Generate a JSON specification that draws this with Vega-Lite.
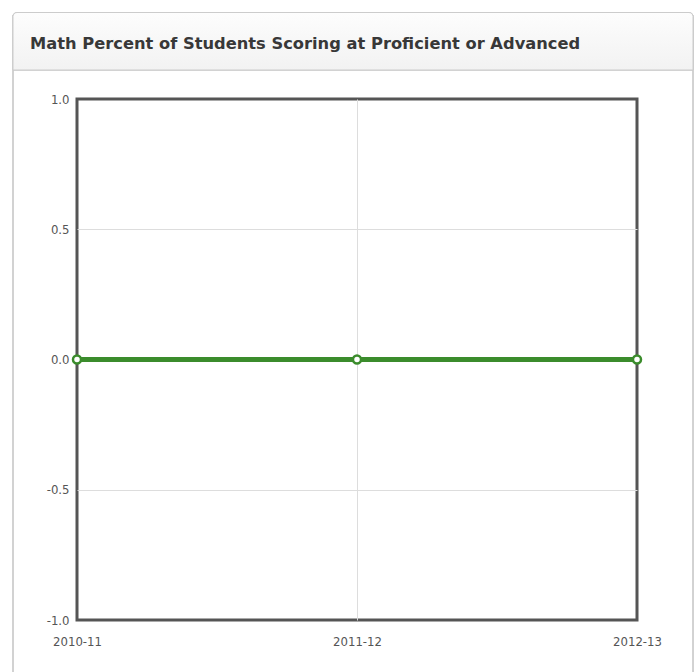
{
  "$schema": "https://vega.github.io/schema/vega-lite/v6.json",
  "width": 560,
  "height": 521,
  "autosize": "none",
  "padding": {"left": 77, "top": 99, "right": 59, "bottom": 52},
  "background": "white",
  "title": {
    "text": "Math Percent of Students Scoring at Proficient or Advanced",
    "anchor": "start",
    "frame": "group",
    "font": "DejaVu Sans",
    "fontSize": 16.3,
    "fontWeight": "bold",
    "color": "#383838",
    "dx": -47,
    "offset": -40,
    "zindex": 1
  },
  "data": {
    "values": [
      {"year": 2010, "value": 0},
      {"year": 2011, "value": 0},
      {"year": 2012, "value": 0}
    ]
  },
  "encoding": {
    "x": {
      "field": "year",
      "type": "quantitative",
      "scale": {"domain": [2010, 2012], "nice": false, "zero": false},
      "axis": {
        "title": null,
        "values": [2010, 2011, 2012],
        "labelExpr": "datum.value + '-' + substring(toString(datum.value + 1), 2)",
        "domain": false,
        "ticks": false,
        "tickSize": 0,
        "labelPadding": 15,
        "labelFlush": false,
        "grid": true,
        "gridColor": {"condition": {"test": "datum.value == 2011", "value": "#dddddd"}, "value": "transparent"},
        "labelFont": "DejaVu Sans Condensed, DejaVu Sans",
        "labelFontSize": 13,
        "labelColor": "#555555"
      }
    },
    "y": {
      "field": "value",
      "type": "quantitative",
      "scale": {"domain": [-1, 1], "nice": false, "zero": false},
      "axis": {
        "title": null,
        "values": [-1, -0.5, 0, 0.5, 1],
        "labelExpr": "replace(format(datum.value, '.1f'), '\u2212', '-')",
        "domain": false,
        "ticks": false,
        "tickSize": 0,
        "labelPadding": 8,
        "grid": true,
        "gridColor": {"condition": {"test": "abs(datum.value) < 0.99", "value": "#dddddd"}, "value": "transparent"},
        "labelFont": "DejaVu Sans Condensed, DejaVu Sans",
        "labelFontSize": 13,
        "labelColor": "#555555"
      }
    }
  },
  "layer": [
    {
      "mark": {"type": "rect", "clip": false, "filled": false, "stroke": "#cccccc", "strokeWidth": 1, "cornerRadius": 4},
      "encoding": {
        "x": {"datum": 2009.7714, "type": "quantitative"},
        "x2": {"datum": 2012.2},
        "y": {"datum": 1.332, "type": "quantitative"},
        "y2": {"datum": -1.3}
      }
    },
    {
      "mark": {
        "type": "rect",
        "clip": false,
        "stroke": "#cccccc",
        "strokeWidth": 1,
        "cornerRadiusTopLeft": 4,
        "cornerRadiusTopRight": 4,
        "fill": {
          "gradient": "linear",
          "x1": 0, "y1": 0, "x2": 0, "y2": 1,
          "stops": [
            {"offset": 0, "color": "#fdfdfd"},
            {"offset": 1, "color": "#f2f2f2"}
          ]
        }
      },
      "encoding": {
        "x": {"datum": 2009.7714, "type": "quantitative"},
        "x2": {"datum": 2012.2},
        "y": {"datum": 1.332, "type": "quantitative"},
        "y2": {"datum": 1.1113}
      }
    },
    {
      "mark": {
        "type": "line",
        "clip": false,
        "color": "#3b8c2c",
        "strokeWidth": 5,
        "point": {"filled": false, "fill": "white", "stroke": "#3b8c2c", "strokeWidth": 2.5, "size": 64, "opacity": 1}
      }
    }
  ],
  "config": {
    "view": {"stroke": "#555555", "strokeWidth": 3}
  }
}
